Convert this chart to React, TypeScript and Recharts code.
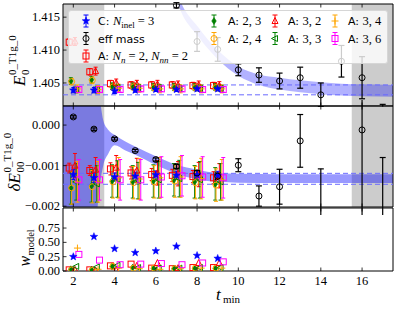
import React from 'react';
import {
  ComposedChart,
  Scatter,
  Area,
  XAxis,
  YAxis,
  ReferenceArea,
  ReferenceLine,
  ErrorBar,
  Legend,
} from 'recharts';

const SERIF = '"Liberation Serif", "DejaVu Serif", serif';
const SANS = '"DejaVu Sans", "Liberation Sans", sans-serif';

const BLUE = '#0000ff';
const RED = '#ff0000';
const GREEN = '#008000';
const ORANGE = '#ffa500';
const MAGENTA = '#ff00ff';

// axes
const X_DOMAIN: [number, number] = [1.5, 17.5];
const X_TICKS = [2, 4, 6, 8, 10, 12, 14, 16];
const GRAY_WINDOWS: [number, number][] = [[1.5, 3.5], [15.5, 17.5]];
const E_DOMAIN: [number, number] = [1.4015, 1.417];
const E_TICKS = [1.405, 1.41, 1.415];
const DE_DOMAIN: [number, number] = [-0.00202, 0.00047];
const DE_TICKS = [-0.002, -0.001, 0];
const W_DOMAIN: [number, number] = [0, 1.1];
const W_TICKS = [0, 0.25, 0.5, 0.75];

// final fit result (dashed lines)
const E_RESULT = [1.4032, 1.4047];
const DE_RESULT = [-0.00146, -0.00119];

// t_min values
const T_FIT = [2, 3, 4, 5, 6, 7, 8, 9];
const T_EFF = [2, 3, 4, 5, 6, 7, 8, 9, 10, 11, 12, 13, 14, 15, 16, 17];

// effective mass
const EFF_E = [null, null, null, null, null, 1.4168, 1.4113, 1.4101, 1.407, 1.4062, 1.4053, 1.4058, 1.4032, 1.4083, 1.4058, 1.399];
const EFF_E_ERR = [null, null, null, null, null, 0.0004, 0.0015, 0.0018, 0.0009, 0.0011, 0.0012, 0.0016, 0.0018, 0.0024, 0.0032, 0.00275];
const EFF_DE = [0.0002, -0.0001, -0.00034, -0.00063, -0.00085, -0.00102, -0.00118, -0.00126, -0.00099, -0.00175, -0.00152, -0.00039, -0.0025, null, -0.00012, -0.0028];
const EFF_DE_ERR = [0.00003, 0.00003, 0.00003, 0.00003, 0.00004, 0.00005, 0.00006, 0.00008, 0.00016, 0.00025, 0.00043, 0.00065, 0.00142, null, 0.003, 0.002];

// eff mass fit bands
const E_BAND_T = [7.0, 7.3, 7.6, 8.0, 8.5, 9.0, 9.5, 10, 11, 12, 13, 14, 15, 16, 17.5];
const E_BAND_LO = [1.4178, 1.4153, 1.4138, 1.4123, 1.4103, 1.4086, 1.4072, 1.4061, 1.4047, 1.404, 1.4036, 1.4033, 1.4031, 1.403, 1.4029];
const E_BAND_HI = [1.4192, 1.4167, 1.4152, 1.4137, 1.4117, 1.41, 1.4086, 1.4075, 1.4063, 1.4058, 1.4054, 1.4051, 1.4049, 1.4048, 1.4047];
const DE_BAND_T = [1.5, 2.5, 3.0, 3.15, 3.3, 3.45, 3.7, 4.0, 4.5, 5, 6, 7, 8, 9, 10, 12, 17.5];
const DE_BAND_LO = [-0.008, -0.006, -0.0035, -0.0022, -0.00143, -0.001, -0.0007, -0.0005, -0.00062, -0.00073, -0.00098, -0.0012, -0.00134, -0.0014, -0.00142, -0.00143, -0.00143];
const DE_BAND_HI = [0.006, 0.004, 0.002, 0.0012, 0.0006, 0.00012, -0.00012, -0.00024, -0.0004, -0.00053, -0.00077, -0.00098, -0.0011, -0.00118, -0.0012, -0.00121, -0.00121];

// C: N_inel = 3
const C_E = [1.4039, 1.4039, 1.4038, 1.4039, 1.404, 1.404, 1.4041, 1.4041];
const C_E_ERR = [0.0004, 0.0004, 0.0004, 0.0003, 0.0003, 0.0003, 0.0003, 0.0003];
const C_DE = [-0.00122, -0.0013, -0.00128, -0.00126, -0.00123, -0.00124, -0.00123, -0.00124];
const C_DE_ERR = [0.00012, 0.00012, 0.0001, 0.0001, 0.0001, 0.0001, 0.0001, 0.0001];
const C_W = [0.25, 0.6, 0.39, 0.32, 0.35, 0.43, 0.27, 0.22];

// A: Nn=2, Nnn=2
const A22_E = [1.4112, 1.4067, 1.4049, 1.4047, 1.4047, 1.4047, 1.4046, 1.4046];
const A22_E_ERR = [0.0005, 0.0005, 0.0005, 0.0005, 0.0005, 0.0005, 0.0005, 0.0005];
const A22_DE = [-0.00106, -0.00112, -0.00108, -0.00118, -0.00122, -0.00124, -0.00127, -0.0013];
const A22_DE_ERR = [0.00012, 0.00012, 0.00015, 0.00015, 0.00015, 0.00015, 0.00015, 0.00015];
const A22_W = [0.02, 0.02, 0.09, 0.12, 0.05, 0.04, 0.06, 0.06];

// A: 2,3
const A23_E = [1.4053, 1.4055, 1.4045, 1.4045, 1.4044, 1.4044, 1.4044, 1.4044];
const A23_E_ERR = [0.0005, 0.0005, 0.0005, 0.0005, 0.0005, 0.0005, 0.0005, 0.0005];
const A23_DE = [-0.00155, -0.0015, -0.00138, -0.0014, -0.00138, -0.00135, -0.0014, -0.00145];
const A23_DE_ERR = [0.0004, 0.0004, 0.0004, 0.0004, 0.0004, 0.0004, 0.0004, 0.0004];
const A23_W = [0.03, 0.02, 0.08, 0.06, 0.04, 0.04, 0.04, 0.04];

// A: 2,4
const A24_E = [1.4052, 1.4054, 1.4044, 1.4044, 1.4043, 1.4043, 1.4043, 1.4043];
const A24_E_ERR = [0.0005, 0.0005, 0.0005, 0.0005, 0.0005, 0.0005, 0.0005, 0.0005];
const A24_DE = [-0.00155, -0.00152, -0.0014, -0.00142, -0.0014, -0.00138, -0.00142, -0.00148];
const A24_DE_ERR = [0.0004, 0.0004, 0.0004, 0.0004, 0.0004, 0.0004, 0.0004, 0.0004];
const A24_W = [0.02, 0.01, 0.08, 0.05, 0.05, 0.04, 0.05, 0.05];

// A: 3,2
const A32_E = [1.4113, 1.4068, 1.405, 1.4048, 1.4048, 1.4047, 1.4047, 1.4046];
const A32_E_ERR = [0.0006, 0.0006, 0.0006, 0.0006, 0.0006, 0.0006, 0.0006, 0.0006];
const A32_DE = [-0.001, -0.0011, -0.00105, -0.00112, -0.00118, -0.0012, -0.00122, -0.00125];
const A32_DE_ERR = [0.0003, 0.0003, 0.0003, 0.0003, 0.0003, 0.0003, 0.0003, 0.0003];
const A32_W = [0.02, 0.01, 0.01, 0.09, 0.14, 0.05, 0.14, 0.14];

// A: 3,3
const A33_E = [1.404, 1.404, 1.4043, 1.4043, 1.4043, 1.4042, 1.4042, 1.4042];
const A33_E_ERR = [0.0005, 0.0005, 0.0005, 0.0005, 0.0005, 0.0005, 0.0005, 0.0005];
const A33_DE = [-0.0014, -0.00145, -0.00133, -0.00137, -0.00135, -0.00132, -0.00135, -0.0014];
const A33_DE_ERR = [0.00045, 0.00045, 0.00045, 0.00045, 0.00045, 0.00045, 0.00045, 0.00045];
const A33_W = [0.08, 0.07, 0.1, 0.06, 0.05, 0.05, 0.06, 0.06];

// A: 3,4
const A34_E = [1.4041, 1.404, 1.4042, 1.4042, 1.4041, 1.4041, 1.4041, 1.4041];
const A34_E_ERR = [0.0006, 0.0006, 0.0006, 0.0006, 0.0006, 0.0006, 0.0006, 0.0006];
const A34_DE = [-0.0014, -0.0014, -0.0013, -0.00133, -0.0013, -0.00128, -0.00132, -0.00135];
const A34_DE_ERR = [0.0005, 0.0005, 0.0005, 0.0005, 0.0005, 0.0005, 0.0005, 0.0005];
const A34_W = [0.4, 0.03, 0.05, 0.04, 0.03, 0.04, 0.05, 0.05];

// A: 3,6
const A36_E = [1.404, 1.404, 1.404, 1.4041, 1.4041, 1.4041, 1.404, 1.404];
const A36_E_ERR = [0.0004, 0.0004, 0.0004, 0.0004, 0.0004, 0.0004, 0.0004, 0.0004];
const A36_DE = [-0.00135, -0.00135, -0.00135, -0.00135, -0.00128, -0.00125, -0.00128, -0.0013];
const A36_DE_ERR = [0.0005, 0.0005, 0.0005, 0.0005, 0.0005, 0.0005, 0.0005, 0.0005];
const A36_W = [0.29, 0.19, 0.11, 0.12, 0.13, 0.11, 0.14, 0.16];

type Kind = 'star' | 'circle' | 'square' | 'diamond' | 'triUp' | 'triLeft' | 'plus';

interface FitSeries {
  name: string;
  color: string;
  kind: Kind;
  dx: number;
  e: number[];
  eErr: number[];
  de: number[];
  deErr: number[];
  w: number[];
}

// drawn in this order, C on top
const FITS: FitSeries[] = [
  { name: 'A22', color: RED, kind: 'square', dx: -0.2, e: A22_E, eErr: A22_E_ERR, de: A22_DE, deErr: A22_DE_ERR, w: A22_W },
  { name: 'A23', color: GREEN, kind: 'diamond', dx: -0.12, e: A23_E, eErr: A23_E_ERR, de: A23_DE, deErr: A23_DE_ERR, w: A23_W },
  { name: 'A24', color: ORANGE, kind: 'circle', dx: -0.08, e: A24_E, eErr: A24_E_ERR, de: A24_DE, deErr: A24_DE_ERR, w: A24_W },
  { name: 'A32', color: RED, kind: 'triUp', dx: 0.08, e: A32_E, eErr: A32_E_ERR, de: A32_DE, deErr: A32_DE_ERR, w: A32_W },
  { name: 'A33', color: GREEN, kind: 'triLeft', dx: 0.14, e: A33_E, eErr: A33_E_ERR, de: A33_DE, deErr: A33_DE_ERR, w: A33_W },
  { name: 'A34', color: ORANGE, kind: 'plus', dx: 0.2, e: A34_E, eErr: A34_E_ERR, de: A34_DE, deErr: A34_DE_ERR, w: A34_W },
  { name: 'A36', color: MAGENTA, kind: 'square', dx: 0.27, e: A36_E, eErr: A36_E_ERR, de: A36_DE, deErr: A36_DE_ERR, w: A36_W },
  { name: 'C', color: BLUE, kind: 'star', dx: 0, e: C_E, eErr: C_E_ERR, de: C_DE, deErr: C_DE_ERR, w: C_W },
];

const toPoints = (ts: number[], vals: (number | null)[], errs: (number | null)[] | null, dx: number) =>
  ts.flatMap((t, i) => (vals[i] == null ? [] : [{ x: t + dx, y: vals[i], err: errs ? errs[i] : 0 }]));

const toBand = (ts: number[], lo: number[], hi: number[]) => ts.map((t, i) => ({ x: t, band: [lo[i], hi[i]] }));

const Marker = ({ kind, cx, cy, color }: { kind: Kind; cx: number; cy: number; color: string }) => {
  if (cx == null || cy == null) return null;
  const sw = 1;
  switch (kind) {
    case 'star': {
      const pts: string[] = [];
      for (let i = 0; i < 10; i++) {
        const r = i % 2 === 0 ? 4 : 1.7;
        const a = -Math.PI / 2 + (i * Math.PI) / 5;
        pts.push(`${cx + r * Math.cos(a)},${cy + r * Math.sin(a)}`);
      }
      return <polygon points={pts.join(' ')} fill={color} stroke={color} strokeWidth={0.5} />;
    }
    case 'circle':
      return <circle cx={cx} cy={cy} r={3} fill="none" stroke={color} strokeWidth={sw} />;
    case 'square':
      return <rect x={cx - 3} y={cy - 3} width={6} height={6} fill="none" stroke={color} strokeWidth={sw} />;
    case 'diamond':
      return (
        <polygon
          points={`${cx},${cy - 3.5} ${cx + 2.3},${cy} ${cx},${cy + 3.5} ${cx - 2.3},${cy}`}
          fill={color}
          stroke={color}
          strokeWidth={0.5}
        />
      );
    case 'triUp':
      return (
        <polygon
          points={`${cx},${cy - 3.5} ${cx + 3},${cy + 2.5} ${cx - 3},${cy + 2.5}`}
          fill="none"
          stroke={color}
          strokeWidth={sw}
        />
      );
    case 'triLeft':
      return (
        <polygon
          points={`${cx - 3.5},${cy} ${cx + 2.5},${cy - 3} ${cx + 2.5},${cy + 3}`}
          fill="none"
          stroke={color}
          strokeWidth={sw}
        />
      );
    case 'plus':
      return (
        <g stroke={color} strokeWidth={sw}>
          <line x1={cx - 3.5} x2={cx + 3.5} y1={cy} y2={cy} />
          <line x1={cx} x2={cx} y1={cy - 3.5} y2={cy + 3.5} />
        </g>
      );
    default:
      return null;
  }
};

const PLOT_LEFT = 63;

const xTick = (plotTop: number, labels: boolean) => (props: any) => {
  const { x, y, payload } = props;
  return (
    <g>
      <line x1={x} x2={x} y1={y} y2={y - 3.5} stroke="#000" strokeWidth={0.8} />
      <line x1={x} x2={x} y1={plotTop} y2={plotTop + 3.5} stroke="#000" strokeWidth={0.8} />
      {labels && (
        <text x={x} y={y + 13.5} textAnchor="middle" fontSize={12.5} fontFamily={SERIF} fill="#000">
          {payload.value}
        </text>
      )}
    </g>
  );
};

const yTick = (digits: number) => (props: any) => {
  const { y, payload } = props;
  const txt = payload.value.toFixed(digits).replace('-', '\u2212');
  return (
    <g>
      <line x1={PLOT_LEFT} x2={PLOT_LEFT + 3.5} y1={y} y2={y} stroke="#000" strokeWidth={0.8} />
      <text x={PLOT_LEFT - 3} y={y + 4} textAnchor="end" fontSize={12.5} fontFamily={SERIF} fill="#000">
        {txt}
      </text>
    </g>
  );
};

const SUP = '0_T1g_0';

const ELabel = (props: any) => {
  const vb = props.viewBox;
  const cy = vb.y + vb.height / 2 + 3;
  return (
    <g transform={`translate(25,${cy}) rotate(-90)`} fontFamily={SERIF} fill="#000">
      <text x={-28} y={0} fontSize={17} fontStyle="italic">E</text>
      <text x={-17} y={4} fontSize={11}>0</text>
      <text x={-17} y={-9} fontSize={11}>{SUP}</text>
    </g>
  );
};

const DELabel = (props: any) => {
  const vb = props.viewBox;
  const cy = vb.y + vb.height / 2 + 4;
  return (
    <g transform={`translate(20,${cy}) rotate(-90)`} fontFamily={SERIF} fill="#000">
      <text x={-31} y={0} fontSize={17} fontStyle="italic">δE</text>
      <text x={-12} y={4} fontSize={11}>00</text>
      <text x={-12} y={-9} fontSize={11}>{SUP}</text>
    </g>
  );
};

const WLabel = (props: any) => {
  const vb = props.viewBox;
  const cy = vb.y + vb.height / 2 + 6;
  return (
    <g transform={`translate(30,${cy}) rotate(-90)`} fontFamily={SERIF} fill="#000">
      <text x={-21} y={0} fontSize={16} fontStyle="italic">w</text>
      <text x={-10} y={3.5} fontSize={10.5}>model</text>
    </g>
  );
};

const TLabel = (props: any) => {
  const vb = props.viewBox;
  const cx = vb.x + vb.width / 2;
  return (
    <g fontFamily={SERIF} fill="#000">
      <text x={cx - 12} y={vb.y + 29} fontSize={17} fontStyle="italic">t</text>
      <text x={cx - 5} y={vb.y + 32} fontSize={11}>min</text>
    </g>
  );
};

const LegendMark = ({ x, y, color, kind }: { x: number; y: number; color: string; kind: Kind }) => (
  <g>
    <g stroke={color} strokeWidth={1}>
      <line x1={x} x2={x} y1={y - 6} y2={y + 6} />
      <line x1={x - 2.5} x2={x + 2.5} y1={y - 6} y2={y - 6} />
      <line x1={x - 2.5} x2={x + 2.5} y1={y + 6} y2={y + 6} />
    </g>
    <Marker kind={kind} cx={x} cy={y} color={color} />
  </g>
);

const Sans = ({ children }: { children: React.ReactNode }) => (
  <tspan fontFamily={SANS} fontSize={11}>{children}</tspan>
);

const LegendBox = () => {
  const cols = [
    { mx: 145, tx: 159 },
    { mx: 206, tx: 219 },
    { mx: 266, tx: 279 },
  ];
  const grid: { c: number; r: number; color: string; kind: Kind; label: string }[] = [
    { c: 0, r: 0, color: GREEN, kind: 'diamond', label: '2, 3' },
    { c: 1, r: 0, color: RED, kind: 'triUp', label: '3, 2' },
    { c: 2, r: 0, color: ORANGE, kind: 'plus', label: '3, 4' },
    { c: 0, r: 1, color: ORANGE, kind: 'circle', label: '2, 4' },
    { c: 1, r: 1, color: GREEN, kind: 'triLeft', label: '3, 3' },
    { c: 2, r: 1, color: MAGENTA, kind: 'square', label: '3, 6' },
  ];
  const rows = [10, 27.5, 45];
  return (
    <svg width={319} height={53} style={{ display: 'block' }} fontFamily={SERIF} fontSize={12.5}>
      <LegendMark x={17} y={rows[0]} color={BLUE} kind="star" />
      <text x={29} y={rows[0] + 4}>
        <Sans>C: </Sans>
        <tspan fontStyle="italic">N</tspan>
        <tspan fontSize={9} dy={3}>inel</tspan>
        <tspan dy={-3}> = 3</tspan>
      </text>
      <LegendMark x={17} y={rows[1]} color="#000" kind="circle" />
      <text x={29} y={rows[1] + 4}>
        <Sans>eff mass</Sans>
      </text>
      <LegendMark x={17} y={rows[2]} color={RED} kind="square" />
      <text x={29} y={rows[2] + 4}>
        <Sans>A: </Sans>
        <tspan fontStyle="italic">N</tspan>
        <tspan fontSize={9} dy={3} fontStyle="italic">n</tspan>
        <tspan dy={-3}> = 2, </tspan>
        <tspan fontStyle="italic">N</tspan>
        <tspan fontSize={9} dy={3} fontStyle="italic">nn</tspan>
        <tspan dy={-3}> = 2</tspan>
      </text>
      {grid.map((g) => (
        <g key={`${g.c}-${g.r}`}>
          <LegendMark x={cols[g.c].mx} y={rows[g.r]} color={g.color} kind={g.kind} />
          <text x={cols[g.c].tx} y={rows[g.r] + 4}>
            <Sans>A: </Sans>
            <tspan>{g.label}</tspan>
          </text>
        </g>
      ))}
    </svg>
  );
};

const CHART_W = 397;
const MARGIN_RIGHT = 4;

const grayAreas = (domain: [number, number]) =>
  GRAY_WINDOWS.map(([a, b]) => (
    <ReferenceArea
      key={`g${a}`}
      x1={a}
      x2={b}
      y1={domain[0]}
      y2={domain[1]}
      fill="#808080"
      fillOpacity={0.4}
      stroke="none"
      ifOverflow="hidden"
    />
  ));

const frame = (domain: [number, number]) => (
  <ReferenceArea
    x1={X_DOMAIN[0]}
    x2={X_DOMAIN[1]}
    y1={domain[0]}
    y2={domain[1]}
    fill="none"
    fillOpacity={0}
    stroke="#000"
    strokeWidth={1}
  />
);

const resultLines = (vals: number[]) =>
  vals.map((v) => (
    <ReferenceLine key={`r${v}`} y={v} stroke="#6a6aff" strokeWidth={1} strokeDasharray="5 3" />
  ));

const fitScatters = (field: 'e' | 'de', errField: 'eErr' | 'deErr') =>
  FITS.map((s) => (
    <Scatter
      key={`${field}-${s.name}`}
      data={toPoints(T_FIT, s[field], s[errField], s.dx)}
      dataKey="y"
      isAnimationActive={false}
      shape={(p: any) => <Marker kind={s.kind} cx={p.cx} cy={p.cy} color={s.color} />}
    >
      <ErrorBar dataKey="err" direction="y" width={2} stroke={s.color} strokeWidth={1} />
    </Scatter>
  ));

const effScatter = (vals: (number | null)[], errs: (number | null)[]) => (
  <Scatter
    data={toPoints(T_EFF, vals, errs, 0)}
    dataKey="y"
    isAnimationActive={false}
    shape={(p: any) => <Marker kind="circle" cx={p.cx} cy={p.cy} color="#000" />}
  >
    <ErrorBar dataKey="err" direction="y" width={3} stroke="#000" strokeWidth={1.2} />
  </Scatter>
);

const xAxis = (plotTop: number, labels: boolean, height: number, label?: any) => (
  <XAxis
    type="number"
    dataKey="x"
    domain={X_DOMAIN}
    ticks={X_TICKS}
    allowDataOverflow
    height={height}
    axisLine={false}
    tickLine={false}
    tickSize={0}
    tickMargin={0}
    tick={xTick(plotTop, labels)}
    interval={0}
    label={label}
  />
);

export default function App() {
  return (
    <div style={{ position: 'absolute', left: 0, top: 0, width: CHART_W, height: 312, background: '#fff' }}>
      {/* energy panel */}
      <div style={{ position: 'absolute', left: 0, top: 0 }}>
        <ComposedChart width={CHART_W} height={107} margin={{ top: 4, right: MARGIN_RIGHT, left: 0, bottom: 0 }}>
          {xAxis(4, false, 1)}
          <YAxis
            type="number"
            dataKey="y"
            domain={E_DOMAIN}
            ticks={E_TICKS}
            allowDataOverflow
            width={PLOT_LEFT}
            axisLine={false}
            tickLine={false}
            tickSize={0}
            tickMargin={0}
            tick={yTick(3)}
            interval={0}
            label={(p: any) => <ELabel {...p} />}
          />
          {grayAreas(E_DOMAIN)}
          <Area
            data={toBand(E_BAND_T, E_BAND_LO, E_BAND_HI)}
            dataKey="band"
            type="monotone"
            stroke="none"
            fill={BLUE}
            fillOpacity={0.3}
            isAnimationActive={false}
          />
          {resultLines(E_RESULT)}
          {fitScatters('e', 'eErr')}
          {effScatter(EFF_E, EFF_E_ERR)}
          {frame(E_DOMAIN)}
          <Legend
            layout="vertical"
            align="center"
            verticalAlign="middle"
            content={() => <LegendBox />}
            wrapperStyle={{
              left: 68,
              top: 10,
              width: 320,
              height: 54,
              background: 'rgba(255,255,255,0.8)',
              border: '1px solid #d6d6d6',
              borderRadius: 3,
              boxSizing: 'border-box',
            }}
          />
        </ComposedChart>
      </div>

      {/* energy shift panel */}
      <div style={{ position: 'absolute', left: 0, top: 100 }}>
        <ComposedChart width={CHART_W} height={115} margin={{ top: 6, right: MARGIN_RIGHT, left: 0, bottom: 7 }}>
          {xAxis(6, false, 1)}
          <YAxis
            type="number"
            dataKey="y"
            domain={DE_DOMAIN}
            ticks={DE_TICKS}
            allowDataOverflow
            width={PLOT_LEFT}
            axisLine={false}
            tickLine={false}
            tickSize={0}
            tickMargin={0}
            tick={yTick(3)}
            interval={0}
            label={(p: any) => <DELabel {...p} />}
          />
          {grayAreas(DE_DOMAIN)}
          <Area
            data={toBand(DE_BAND_T, DE_BAND_LO, DE_BAND_HI)}
            dataKey="band"
            type="monotone"
            stroke="none"
            fill={BLUE}
            fillOpacity={0.4}
            isAnimationActive={false}
          />
          {resultLines(DE_RESULT)}
          {fitScatters('de', 'deErr')}
          {effScatter(EFF_DE, EFF_DE_ERR)}
          {frame(DE_DOMAIN)}
        </ComposedChart>
      </div>

      {/* model weights panel */}
      <div style={{ position: 'absolute', left: 0, top: 200 }}>
        <ComposedChart width={CHART_W} height={112} margin={{ top: 8, right: MARGIN_RIGHT, left: 0, bottom: 0 }}>
          {xAxis(8, true, 41, (p: any) => <TLabel {...p} />)}
          <YAxis
            type="number"
            dataKey="y"
            domain={W_DOMAIN}
            ticks={W_TICKS}
            allowDataOverflow
            width={PLOT_LEFT}
            axisLine={false}
            tickLine={false}
            tickSize={0}
            tickMargin={0}
            tick={yTick(2)}
            interval={0}
            label={(p: any) => <WLabel {...p} />}
          />
          {FITS.map((s) => (
            <Scatter
              key={`w-${s.name}`}
              data={toPoints(T_FIT, s.w, null, s.dx)}
              dataKey="y"
              isAnimationActive={false}
              shape={(p: any) => <Marker kind={s.kind} cx={p.cx} cy={p.cy} color={s.color} />}
            />
          ))}
          {frame(W_DOMAIN)}
        </ComposedChart>
      </div>
    </div>
  );
}
